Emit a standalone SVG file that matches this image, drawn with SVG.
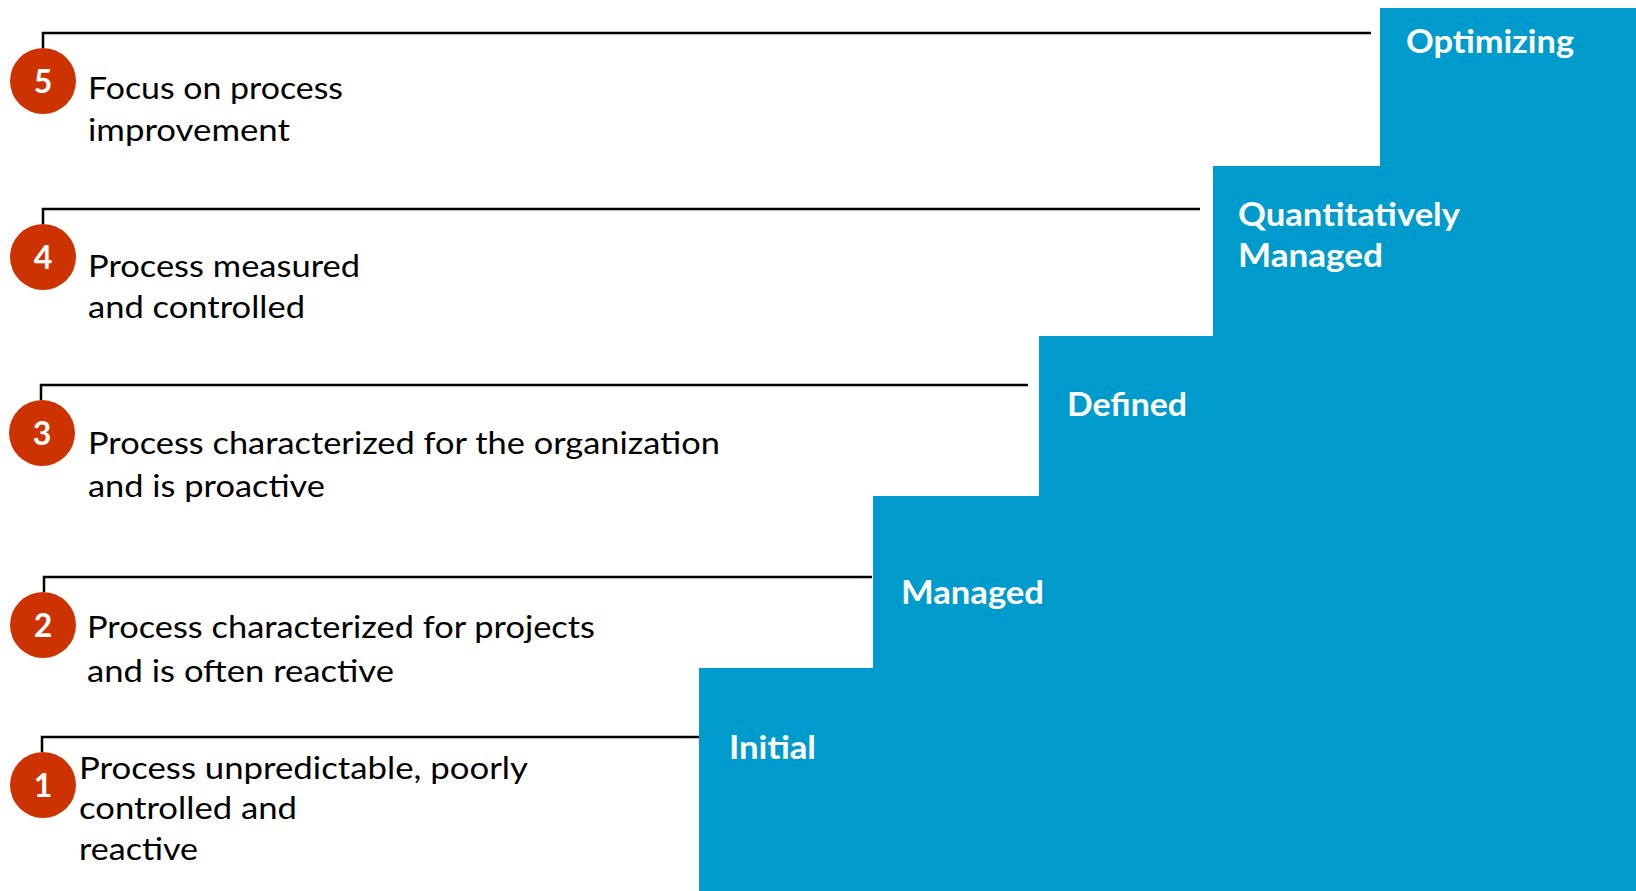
<svg xmlns="http://www.w3.org/2000/svg" width="1636" height="891" viewBox="0 0 1636 891">
<style>
.step{fill:#009BCD;shape-rendering:crispEdges}
.lbl{fill:#fff;font-family:Lato,"Open Sans","Liberation Sans",sans-serif;font-weight:bold;font-size:33px}
.badge{fill:#CC3300}
.num{fill:#fff;font-family:Lato,"Open Sans","Liberation Sans",sans-serif;font-weight:bold;font-size:32px;text-anchor:middle}
.desc{fill:#000;font-family:Lato,"Open Sans","Liberation Sans",sans-serif;font-size:31px}
.conn{fill:none;stroke:#000;stroke-width:2.5}
</style>
<rect width="1636" height="891" fill="#fff"/>
<g id="connectors">
<path class="conn" d="M43,48 V33 H1371"/>
<path class="conn" d="M43,224 V209 H1200"/>
<path class="conn" d="M41,400 V385 H1028"/>
<path class="conn" d="M44,592 V577 H872"/>
<path class="conn" d="M42,752 V737 H699"/>
</g>
<g id="step-optimizing">
<rect class="step" x="1380" y="8" width="256" height="883"/>
<text class="lbl" x="1406" y="53" textLength="168" lengthAdjust="spacingAndGlyphs">Optimizing</text>
</g>
<g id="step-quantitative">
<rect class="step" x="1213" y="166" width="167" height="725"/>
<text class="lbl" x="1238" y="226" textLength="222" lengthAdjust="spacingAndGlyphs">Quantitatively</text>
<text class="lbl" x="1238" y="267" textLength="145" lengthAdjust="spacingAndGlyphs">Managed</text>
</g>
<g id="step-defined">
<rect class="step" x="1039" y="336" width="174" height="555"/>
<text class="lbl" x="1067" y="416" textLength="120" lengthAdjust="spacingAndGlyphs">Defined</text>
</g>
<g id="step-managed">
<rect class="step" x="873" y="496" width="166" height="395"/>
<text class="lbl" x="901" y="604" textLength="143" lengthAdjust="spacingAndGlyphs">Managed</text>
</g>
<g id="step-initial">
<rect class="step" x="699" y="668" width="174" height="223"/>
<text class="lbl" x="729" y="759" textLength="87" lengthAdjust="spacingAndGlyphs">Initial</text>
</g>
<g id="level-5">
<circle class="badge" cx="43" cy="81" r="33"/>
<text class="num" x="43" y="93">5</text>
<text class="desc" x="88" y="99" textLength="255" lengthAdjust="spacingAndGlyphs">Focus on process</text>
<text class="desc" x="88" y="141" textLength="202" lengthAdjust="spacingAndGlyphs">improvement</text>
</g>
<g id="level-4">
<circle class="badge" cx="43" cy="257" r="33"/>
<text class="num" x="43" y="269">4</text>
<text class="desc" x="88" y="277" textLength="272" lengthAdjust="spacingAndGlyphs">Process measured</text>
<text class="desc" x="88" y="318" textLength="217" lengthAdjust="spacingAndGlyphs">and controlled</text>
</g>
<g id="level-3">
<circle class="badge" cx="42" cy="433" r="33"/>
<text class="num" x="42" y="445">3</text>
<text class="desc" x="88" y="454" textLength="632" lengthAdjust="spacingAndGlyphs">Process characterized for the organization</text>
<text class="desc" x="88" y="497" textLength="237" lengthAdjust="spacingAndGlyphs">and is proactive</text>
</g>
<g id="level-2">
<circle class="badge" cx="43" cy="625" r="33"/>
<text class="num" x="43" y="637">2</text>
<text class="desc" x="87" y="638" textLength="508" lengthAdjust="spacingAndGlyphs">Process characterized for projects</text>
<text class="desc" x="87" y="682" textLength="307" lengthAdjust="spacingAndGlyphs">and is often reactive</text>
</g>
<g id="level-1">
<circle class="badge" cx="43" cy="785" r="33"/>
<text class="num" x="43" y="797">1</text>
<text class="desc" x="79" y="779" textLength="449" lengthAdjust="spacingAndGlyphs">Process unpredictable, poorly</text>
<text class="desc" x="79" y="819" textLength="218" lengthAdjust="spacingAndGlyphs">controlled and</text>
<text class="desc" x="79" y="860" textLength="119" lengthAdjust="spacingAndGlyphs">reactive</text>
</g>
</svg>
